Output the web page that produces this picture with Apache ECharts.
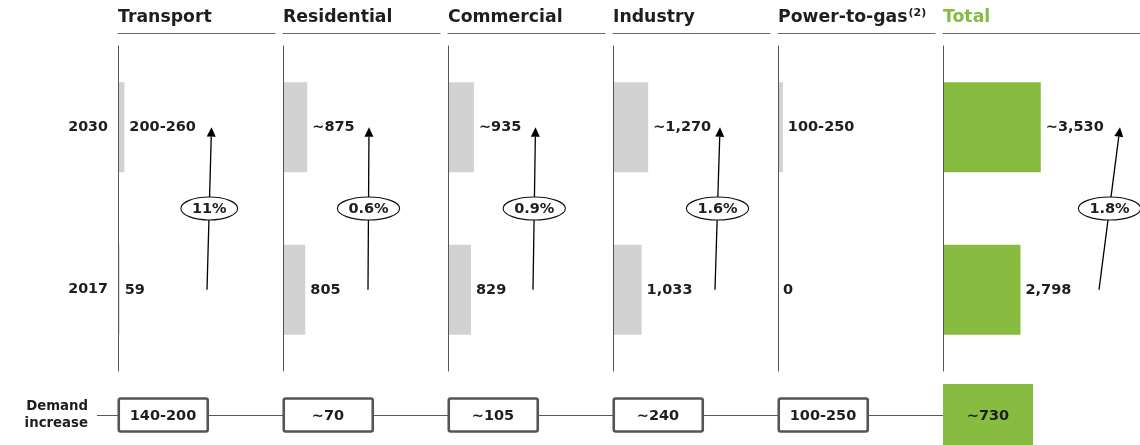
<!DOCTYPE html>
<html><head><meta charset="utf-8">
<script src="https://cdn.jsdelivr.net/npm/echarts@6/dist/echarts.min.js"></script>
<style>html,body{margin:0;padding:0;background:#fff}#c{width:1140px;height:445px}</style>
</head><body><div id="c"></div>
<script>
// ---- data ----
const sectors = ['Transport', 'Residential', 'Commercial', 'Industry', 'Power-to-gas', 'Total'];
const years = ['2017', '2030'];
const values2017 = [59, 805, 829, 1033, 0, 2798];
const values2030 = [230, 875, 935, 1270, 175, 3530];
const labels2017 = ['59', '805', '829', '1,033', '0', '2,798'];
const labels2030 = ['200-260', '~875', '~935', '~1,270', '100-250', '~3,530'];
const cagr = ['11%', '0.6%', '0.9%', '1.6%', null, '1.8%'];
const demandIncrease = ['140-200', '~70', '~105', '~240', '100-250', '~730'];

// ---- layout / style ----
const FONT = '"DejaVu Sans", Verdana, sans-serif';
const TXT = '#1e1e1e';
const GREY = '#d2d2d2', GREEN = '#88bc40';
const PANEL_LEFT0 = 118, PANEL_STEP = 165, PANEL_W = 157, LAST_W = 197;
const PX_PER_UNIT = 0.0277;
const GRID_TOP = 46, GRID_H = 325;
// arrow x offsets (px from panel left): [at 2017 row, at 2030 row]
const arrowOffsets = [[89, 93.5], [85, 86], [85, 87.5], [102, 107], null, [156, 177]];

const ctx = document.createElement('canvas').getContext('2d');
function textW(t, font) { ctx.font = font; return ctx.measureText(t).width; }

const grids = [], xAxes = [], yAxes = [], series = [], titles = [];
sectors.forEach((name, i) => {
  const left = PANEL_LEFT0 + i * PANEL_STEP;
  const w = i === sectors.length - 1 ? LAST_W : PANEL_W;
  const isTotal = name === 'Total';
  grids.push({ left: left, top: GRID_TOP, width: w, height: GRID_H });
  xAxes.push({
    gridIndex: i, type: 'value', min: 0, max: w / PX_PER_UNIT, position: 'top', offset: 13,
    axisLine: { show: true, lineStyle: { color: '#6a6a6a', width: 1 } },
    axisTick: { show: false }, axisLabel: { show: false }, splitLine: { show: false }
  });
  yAxes.push({
    gridIndex: i, type: 'category', data: years, z: 4,
    axisLine: { show: true, lineStyle: { color: '#555', width: 1 } },
    axisTick: { show: false },
    axisLabel: { show: i === 0, margin: 10, color: TXT, fontFamily: FONT, fontWeight: 'bold', fontSize: 14.3 }
  });
  const title = name === 'Power-to-gas' ? '{a|Power-to-gas}{s|(2)}' : '{a|' + name + '}';
  titles.push({
    text: title, left: left, top: 8, padding: 0,
    textStyle: {
      rich: {
        a: { fontFamily: FONT, fontWeight: 'bold', fontSize: 17.3, lineHeight: 20, color: isTotal ? GREEN : TXT },
        s: { fontFamily: FONT, fontWeight: 'bold', fontSize: 11, lineHeight: 12, verticalAlign: 'top', color: TXT, padding: [0, 0, 0, 1] }
      }
    }
  });
  series.push({
    type: 'bar', xAxisIndex: i, yAxisIndex: i, barWidth: 90, silent: true,
    itemStyle: { color: isTotal ? GREEN : GREY },
    data: [values2017[i], values2030[i]],
    label: {
      show: true, position: 'right', distance: 5, color: TXT,
      fontFamily: FONT, fontWeight: 'bold', fontSize: 14.5,
      formatter: p => (p.dataIndex === 0 ? labels2017 : labels2030)[i]
    }
  });
  if (cagr[i]) {
    const off = arrowOffsets[i];
    const label = cagr[i];
    series.push({
      type: 'custom', xAxisIndex: i, yAxisIndex: i, silent: true, z: 5,
      data: [[0, 0]],
      renderItem: (params, api) => {
        const p0 = api.coord([0, 0]);
        const p1 = api.coord([0, 1]);
        const xb = p0[0] + off[0], yb = p0[1];
        const xt = p0[0] + off[1], yt = p1[1];
        const dx = xt - xb, dy = yt - yb, len = Math.hypot(dx, dy);
        const ux = dx / len, uy = dy / len;
        const hl = 9.5, hw = 4.5;
        const bx = xt - ux * hl, by = yt - uy * hl;
        const px = -uy, py = ux;
        const cx = (xb + xt) / 2, cy = (yb + yt) / 2;
        const f = 'bold 14.5px ' + FONT;
        const rx = (textW(label, f) + 22) / 2;
        return {
          type: 'group', children: [
            { type: 'line', shape: { x1: xb, y1: yb, x2: bx, y2: by }, style: { stroke: '#000', lineWidth: 1.3 } },
            { type: 'polygon', shape: { points: [[xt, yt], [bx + px * hw, by + py * hw], [bx - px * hw, by - py * hw]] }, style: { fill: '#000' } },
            { type: 'ellipse', shape: { cx: cx, cy: cy, rx: rx, ry: 11.5 }, style: { fill: '#fff', stroke: '#111', lineWidth: 1.1 } },
            { type: 'text', style: { text: label, x: cx, y: cy + 0.5, align: 'center', verticalAlign: 'middle', font: f, fill: TXT } }
          ]
        };
      }
    });
  }
});

// bottom row: demand increase
const bi = sectors.length;
grids.push({ left: PANEL_LEFT0, top: 398, width: PANEL_STEP * sectors.length, height: 34 });
xAxes.push({ gridIndex: bi, type: 'category', data: sectors, show: false, boundaryGap: true });
yAxes.push({ gridIndex: bi, type: 'value', min: 0, max: 1, show: false });
series.push({
  type: 'custom', xAxisIndex: bi, yAxisIndex: bi, silent: true,
  data: demandIncrease.map((t, i) => [i, 0.5]),
  renderItem: (params, api) => {
    const idx = params.dataIndex;
    const c = api.coord([api.value(0), 0.5]);
    const bw = api.size([1, 0])[0];
    const h = api.size([0, 1])[1];
    const x0 = c[0] - bw / 2;
    const isTotal = sectors[idx] === 'Total';
    const f = 'bold 14.5px ' + FONT;
    const children = [];
    if (idx === 0) {
      const ly = Math.round(c[1]) + 0.5;
      children.push({ type: 'line', z2: -5, shape: { x1: x0 - 21, y1: ly, x2: x0 + bw * (sectors.length - 1), y2: ly }, style: { stroke: '#5a5a5a', lineWidth: 1 } });
      children.push({ type: 'text', style: { text: 'Demand\nincrease', x: x0 - 30, y: c[1], align: 'right', verticalAlign: 'middle', font: 'bold 13.3px ' + FONT, lineHeight: 17, fill: TXT } });
    }
    if (isTotal) {
      children.push({ type: 'rect', z2: 2, shape: { x: x0, y: c[1] - 31, width: 90, height: 62 }, style: { fill: GREEN } });
      children.push({ type: 'text', z2: 3, style: { text: demandIncrease[idx], x: x0 + 45, y: c[1] + 1, align: 'center', verticalAlign: 'middle', font: f, fill: TXT } });
    } else {
      children.push({ type: 'rect', z2: 2, shape: { x: x0 + 0.75, y: c[1] - h / 2 + 0.5, width: 89, height: h - 1, r: 2 }, style: { fill: '#fff', stroke: '#555', lineWidth: 2.6 } });
      children.push({ type: 'text', z2: 3, style: { text: demandIncrease[idx], x: x0 + 45, y: c[1] + 1, align: 'center', verticalAlign: 'middle', font: f, fill: TXT } });
    }
    return { type: 'group', children: children };
  }
});

const chart = echarts.init(document.getElementById('c'), null, { renderer: 'canvas' });
chart.setOption({
  animation: false,
  backgroundColor: '#fff',
  title: titles,
  grid: grids,
  xAxis: xAxes,
  yAxis: yAxes,
  series: series
});
</script>
</body></html>
